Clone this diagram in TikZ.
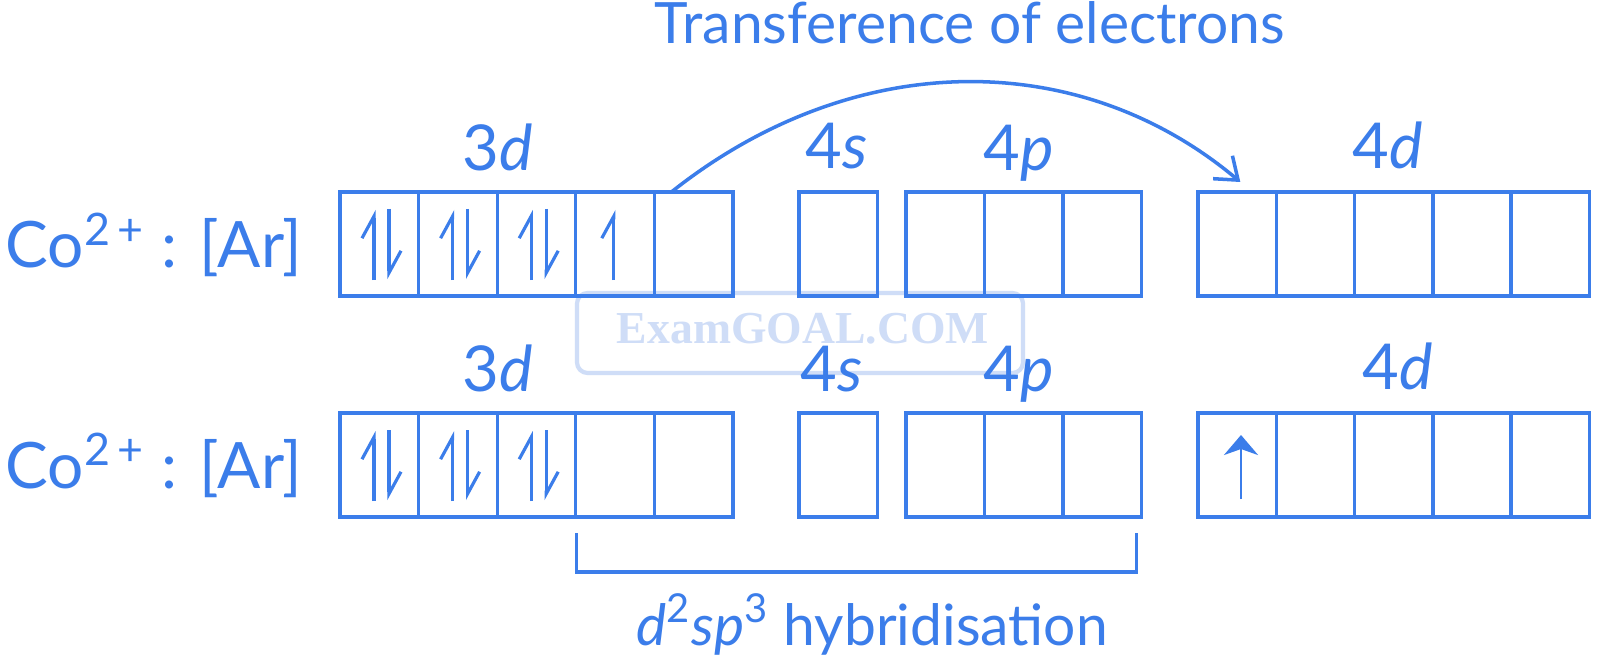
\documentclass[tikz,border=0pt]{standalone}
\usepackage{fontspec}
\setmainfont{Lato}
\newfontfamily\markfont{Liberation Serif}
\usetikzlibrary{arrows.meta,calc}
\definecolor{orbblue}{HTML}{3B7DEA}
\definecolor{markblue}{HTML}{CFDDF7}

\tikzset{
  orb/.style={draw=orbblue, line width=0.9pt, anchor=north west,
    minimum width=0.786cm, minimum height=1.04cm, inner sep=0pt, outer sep=0pt},
  spinup/.style={orbblue, line width=0.9pt, -{Straight Barb[harpoon, length=0.22cm, width=0.24cm]}},
  spindn/.style={orbblue, line width=0.9pt, -{Straight Barb[harpoon, length=0.22cm, width=0.24cm]}},
  lone/.style={orbblue, line width=0.8pt, -{Stealth[length=0.2cm, width=0.34cm, inset=0.06cm]}},
  lbl/.style={text=orbblue, anchor=base, inner sep=0pt, font=\fontsize{18}{20}\selectfont},
  ion/.style={text=orbblue, anchor=base west, inner sep=0pt, font=\fontsize{18.2}{22}\selectfont},
  captext/.style={text=orbblue, anchor=base, inner sep=0pt, font=\fontsize{16.2}{19}\selectfont}
}

\begin{document}
\begin{tikzpicture}[x=0.01cm, y=-0.01cm]
  \useasboundingbox (0,0) rectangle (1600,667);
  \fill[white] (0,0) rectangle (1600,667);

  % watermark
  \draw[markblue, line width=1.2pt, rounded corners=3pt] (577,293) rectangle (1023,373);
  \node[text=markblue, anchor=base, inner sep=0pt, font=\markfont\bfseries\fontsize{13}{16}\selectfont]
    (mark) at (803,343) {ExamGOAL.COM};

  \node[captext] (title) at (970,44) {Transference of electrons};

  % ground state
  \node[ion] (ion1) at (5,268) {Co\textsuperscript{2\,+} : [Ar]};
  \foreach \i in {1,...,5} \node[orb] (g3d\i) at ({340+(\i-1)*78.6},192) {};
  \node[orb] (g4s) at (799,192) {};
  \foreach \i in {1,2,3} \node[orb] (g4p\i) at ({906+(\i-1)*78.3},192) {};
  \foreach \i in {1,...,5} \node[orb] (g4d\i) at ({1198+(\i-1)*78.2},192) {};
  \node[lbl] (g3dl) at (498,171) {3\textit{d}};
  \node[lbl] (g4sl) at (837,169) {4\textit{s}};
  \node[lbl] (g4pl) at (1019,171) {4\textit{p}};
  \node[lbl] (g4dl) at (1388,169) {4\textit{d}};
  \foreach \i in {1,2,3} {
    \draw[spinup] ($(g3d\i.north west)+(34,88)$) -- ($(g3d\i.north west)+(34,18)$);
    \draw[spindn] ($(g3d\i.north west)+(49,17)$) -- ($(g3d\i.north west)+(49,87)$);
  }
  \draw[spinup] ($(g3d4.north west)+(38,88)$) -- ($(g3d4.north west)+(38,18)$);

  % transfer arc
  \coordinate (from) at ($(g3d5.north west)+(17,0)$);
  \coordinate (to) at ($(g4d1.north)+(3,-10)$);
  \draw[orbblue, line width=1pt, -{Straight Barb[length=0.2cm, width=0.3cm]}]
    (from) .. controls (854,47) and (1080,47) .. (to);

  % excited state
  \node[ion] (ion2) at (5,488) {Co\textsuperscript{2\,+} : [Ar]};
  \foreach \i in {1,...,5} \node[orb] (h3d\i) at ({340+(\i-1)*78.6},413) {};
  \node[orb] (h4s) at (799,413) {};
  \foreach \i in {1,2,3} \node[orb] (h4p\i) at ({906+(\i-1)*78.3},413) {};
  \foreach \i in {1,...,5} \node[orb] (h4d\i) at ({1198+(\i-1)*78.2},413) {};
  \node[lbl] (h3dl) at (498,391) {3\textit{d}};
  \node[lbl] (h4sl) at (832,391) {4\textit{s}};
  \node[lbl] (h4pl) at (1019,391) {4\textit{p}};
  \node[lbl] (h4dl) at (1398,389) {4\textit{d}};
  \foreach \i in {1,2,3} {
    \draw[spinup] ($(h3d\i.north west)+(34,88)$) -- ($(h3d\i.north west)+(34,18)$);
    \draw[spindn] ($(h3d\i.north west)+(49,17)$) -- ($(h3d\i.north west)+(49,87)$);
  }
  \draw[lone] ($(h4d1.north west)+(43,86)$) -- ($(h4d1.north west)+(43,22)$);

  % hybrid bracket
  \coordinate (brl) at ($(h3d4.south west)+(1,16)$);
  \coordinate (brr) at ($(h4p3.south east)+(-5,16)$);
  \draw[orbblue, line width=0.9pt] (brl) -- ++(0,39) -| (brr);
  \node[captext] (hyb) at (872,645) {\textit{d}\textsuperscript{2}\textit{sp}\textsuperscript{3} hybridisation};
\end{tikzpicture}
\end{document}
